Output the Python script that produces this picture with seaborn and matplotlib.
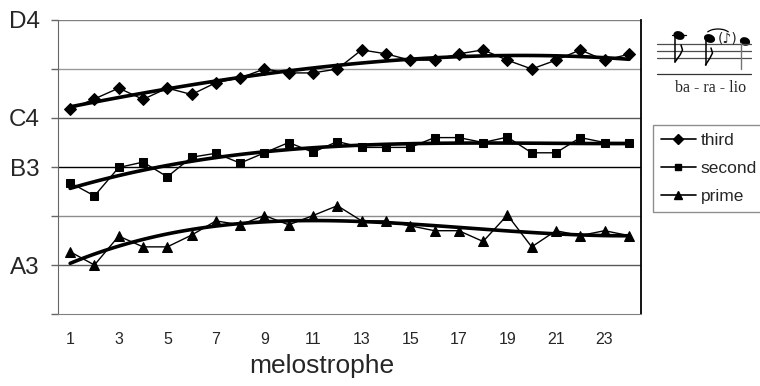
import numpy as np
import pandas as pd
import matplotlib
matplotlib.use("Agg")
import matplotlib.pyplot as plt
from matplotlib.lines import Line2D
from matplotlib.patches import Ellipse, Arc
import seaborn as sns

# ---- data (semitones above A3) ----
melostrophe = list(range(1, 25))
third = [3.18, 3.39, 3.61, 3.38, 3.61, 3.48, 3.72, 3.82, 4.00, 3.92, 3.92, 4.00,
         4.39, 4.31, 4.18, 4.18, 4.31, 4.39, 4.18, 4.00, 4.18, 4.39, 4.18, 4.30]
second = [1.68, 1.41, 1.99, 2.10, 1.80, 2.20, 2.28, 2.08, 2.29, 2.50, 2.30, 2.52,
          2.40, 2.40, 2.40, 2.60, 2.60, 2.50, 2.61, 2.29, 2.29, 2.60, 2.50, 2.50]
prime = [0.27, 0.00, 0.59, 0.37, 0.37, 0.61, 0.90, 0.82, 1.01, 0.82, 1.01, 1.21,
         0.90, 0.90, 0.80, 0.70, 0.70, 0.48, 1.02, 0.37, 0.70, 0.60, 0.70, 0.60]
xticks = list(range(1, 24, 2))
ytick_pos = [5, 3, 2, 0]
ytick_labels = ["D4", "C4", "B3", "A3"]
syllables = "ba - ra - lio"

W, H = 760, 386
sns.set_style("white")
plt.rcParams['font.family'] = ['Liberation Sans', 'DejaVu Sans']

fig = plt.figure(figsize=(W / 100, H / 100), dpi=100)
ax = fig.add_axes([58 / W, 1 - 314 / H, (641 - 58) / W, (314 - 20) / H])

df = pd.DataFrame({"x": melostrophe, "third": third, "second": second, "prime": prime})
series = [("third", "D", 6), ("second", "s", 6), ("prime", "^", 7)]

# grid lines (one per semitone)
grid_colors = {0: "0.35", 1: "0.55", 2: "0.0", 3: "0.35", 4: "0.6", 5: "0.5"}
for yv, c in grid_colors.items():
    ax.axhline(yv, color=c, lw=1.0, zorder=0)

for name, mk, ms in series:
    sns.lineplot(data=df, x="x", y=name, ax=ax, color="black", lw=1.0,
                 marker=mk, markersize=ms, markeredgecolor="black", zorder=3)
    sns.regplot(data=df, x="x", y=name, ax=ax, order=3, scatter=False, ci=None,
                color="black", line_kws={"lw": 2.6, "zorder": 4})

ax.set_xlim(0.5, 24.5)
ax.set_ylim(-1, 5)
ax.set_xticks(xticks)
ax.set_xticklabels([str(v) for v in xticks], fontsize=11.5)
all_y = [-1, 0, 1, 2, 3, 4, 5]
ax.set_yticks(all_y)
ax.set_yticklabels([ytick_labels[ytick_pos.index(v)] if v in ytick_pos else ""
                    for v in all_y], fontsize=17.5)
ax.tick_params(axis="y", which="both", length=5, width=1, color="0.4", pad=8, left=True)
ax.tick_params(axis="x", length=0, pad=13)
ax.set_xlabel("melostrophe", fontsize=19)
ax.xaxis.set_label_coords((322 - 58) / 583, -0.135)
ax.set_ylabel("")
ax.spines["top"].set_visible(False)
ax.spines["left"].set_color("0.4")
ax.spines["bottom"].set_color("0.5")
ax.spines["right"].set_color("black")
ax.spines["right"].set_linewidth(1.3)

# legend
handles = [Line2D([0], [0], color="black", lw=1.2, marker=mk, markersize=ms - 1)
           for _, mk, ms in series]
leg = fig.legend(handles, [s[0] for s in series], loc="upper left",
                 bbox_to_anchor=(653 / W, 1 - 125 / H), borderaxespad=0,
                 fontsize=12.5, frameon=True, fancybox=False, handlelength=2.0,
                 handletextpad=0.3, labelspacing=0.75, borderpad=0.45)
leg.get_frame().set_edgecolor("0.45")
leg.get_frame().set_linewidth(1.0)

# music notation snippet (figure pixel coordinates)
mx = fig.add_axes([0, 0, 1, 1], zorder=5)
mx.set_xlim(0, W)
mx.set_ylim(H, 0)
mx.axis("off")
mx.patch.set_alpha(0)
for yy in [43.5, 50.5, 58]:
    mx.plot([657, 751], [yy, yy], color="0.3", lw=0.9)
mx.plot([657, 751], [73.5, 73.5], color="0.2", lw=0.9)
# note 1
mx.add_patch(Ellipse((679, 35.5), 10, 7, angle=20, color="black"))
mx.plot([672, 686], [35, 35], color="black", lw=0.9)
mx.plot([675, 675], [37, 62], color="black", lw=1.1)
mx.plot([675, 680, 682.5, 681], [62, 55, 50, 45], color="black", lw=1.1)
# note 2
mx.add_patch(Ellipse((709.5, 38.5), 10, 7, angle=20, color="black"))
mx.plot([705.5, 705.5], [40, 65], color="black", lw=1.1)
mx.plot([705.5, 710, 712.5, 711], [65, 58, 53, 48], color="black", lw=1.1)
# slur
mx.add_patch(Arc((718, 35), 24, 12, theta1=195, theta2=345, color="black", lw=0.9))
# grace note
mx.text(728, 39, "(\u266a)", fontsize=10, ha="center", va="center",
        family=["DejaVu Sans"])
# note 3
mx.add_patch(Ellipse((745, 41.5), 9, 7, angle=20, color="black"))
mx.plot([740.5, 740.5], [43, 69], color="0.45", lw=1.0)
mx.text(711, 88, syllables, fontsize=11.5, ha="center", va="center",
        family=["Liberation Serif", "DejaVu Serif"])

fig.savefig("out.png", dpi=100, facecolor="white")
